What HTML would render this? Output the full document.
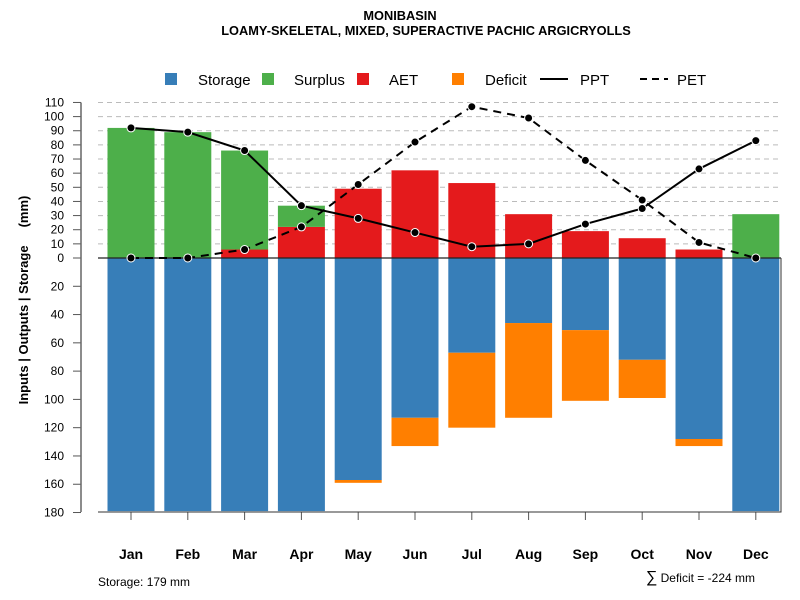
<!DOCTYPE html>
<html><head><meta charset="utf-8"><style>body{margin:0;background:#fff}svg{display:block;font-family:"Liberation Sans",sans-serif}</style></head>
<body>
<svg id="chart" width="800" height="600" viewBox="0 0 800 600">
<text x="400" y="20" text-anchor="middle" font-size="12.8" font-weight="bold">MONIBASIN</text>
<text x="426" y="35" text-anchor="middle" font-size="12.8" font-weight="bold">LOAMY-SKELETAL, MIXED, SUPERACTIVE PACHIC ARGICRYOLLS</text>
<g id="legend" font-size="15">
<rect x="165" y="73" width="12" height="12" fill="#377eb8"/><text x="198" y="85">Storage</text>
<rect x="262" y="73" width="12" height="12" fill="#4daf4a"/><text x="294" y="85">Surplus</text>
<rect x="357" y="73" width="12" height="12" fill="#e41a1c"/><text x="389" y="85">AET</text>
<rect x="452" y="73" width="12" height="12" fill="#ff7f00"/><text x="485" y="85">Deficit</text>
<line x1="540" y1="79" x2="568" y2="79" stroke="#000" stroke-width="2"/><text x="580" y="85">PPT</text>
<line x1="640" y1="79" x2="668" y2="79" stroke="#000" stroke-width="2" stroke-dasharray="7,5"/><text x="677" y="85">PET</text>
</g>
<text transform="translate(28,300) rotate(-90)" text-anchor="middle" font-size="13" font-weight="bold">Inputs | Outputs | Storage&#160;&#160;&#160;&#160;&#160;(mm)</text>
<text x="98" y="586" font-size="12">Storage: 179 mm</text>
<text x="755" y="582" text-anchor="end" font-size="12"><tspan font-size="16">∑</tspan> Deficit = -224 mm</text>
</svg>
<script>
const months=["Jan","Feb","Mar","Apr","May","Jun","Jul","Aug","Sep","Oct","Nov","Dec"];
const storage=[179,179,179,179,157,113,67,46,51,72,128,179];
const deficit=[0,0,0,0,2,20,53,67,50,27,5,0];
const aet=[0,0,6,22,49,62,53,31,19,14,6,0];
const surplus=[92,89,70,15,0,0,0,0,0,0,0,31];
const ppt=[92,89,76,37,28,18,8,10,24,35,63,83];
const pet=[0,0,6,22,52,82,107,99,69,41,11,0];
const upTicks=[0,10,20,30,40,50,60,70,80,90,100,110];
const downTicks=[20,40,60,80,100,120,140,160,180];
const NS="http://www.w3.org/2000/svg",svg=document.getElementById('chart');
const y0=258,k=1.414;
const Y=v=>y0-v*k;
const X=i=>131+i*56.8;
const bw=47;
function mk(t,a,p){const e=document.createElementNS(NS,t);for(const q in a)e.setAttribute(q,a[q]);(p||svg).appendChild(e);return e;}
const g=mk('g',{});


upTicks.forEach(v=>{
 if(v>0){const l=mk('line',{x1:98,x2:781,y1:Y(v),y2:Y(v),stroke:'#bbb','stroke-dasharray':'5,4'},g);
 
 }
 const t=mk('line',{x1:73,x2:81,y1:Y(v),y2:Y(v),stroke:'#555'},g);
 
 
 const tx=mk('text',{x:64,y:Y(v)+4,'text-anchor':'end','font-size':12},g);tx.textContent=v;
 
 
});
downTicks.forEach(v=>{
 const t=mk('line',{x1:73,x2:81,y1:Y(-v),y2:Y(-v),stroke:'#555'},g);
 
 
 const tx=mk('text',{x:64,y:Y(-v)+4,'text-anchor':'end','font-size':12},g);tx.textContent=v;
 
 
});
months.forEach((m,i)=>{
 const x=X(i)-bw/2;
 const s=mk('rect',{x:x,y:y0,width:bw,height:storage[i]*k,fill:'#377eb8'},g);
 
 
 if(deficit[i]>0){const d=mk('rect',{x:x,y:Y(-storage[i]),width:bw,height:deficit[i]*k,fill:'#ff7f00'},g);
 
 }
 if(aet[i]>0){const a=mk('rect',{x:x,y:Y(aet[i]),width:bw,height:aet[i]*k,fill:'#e41a1c'},g);
 
 }
 if(surplus[i]>0){const u=mk('rect',{x:x,y:Y(aet[i]+surplus[i]),width:bw,height:surplus[i]*k,fill:'#4daf4a'},g);
 
 }
 const t=mk('line',{x1:X(i),x2:X(i),y1:512,y2:520,stroke:'#555'},g);
 
 
 const tx=mk('text',{x:X(i),y:559,'text-anchor':'middle','font-size':14,'font-weight':'bold'},g);tx.textContent=m;
 
 
});
const zl=mk('line',{x1:98,x2:781,y1:y0,y2:y0,stroke:'#222','stroke-width':1.2},g);


const ax=mk('line',{x1:81,x2:81,y1:Y(110),y2:512,stroke:'#666','stroke-width':1.5},g);


const bx=mk('path',{d:'M98,512H781V'+Y(0),stroke:'#333',fill:'none'},g);


function series(vals,name,dash){
 const p=mk('polyline',{points:vals.map((v,i)=>X(i)+','+Y(v)).join(' '),fill:'none',stroke:'#000','stroke-width':2,'stroke-dasharray':dash||'none'},g);
 
 
 vals.forEach((v,i)=>{const c=mk('circle',{cx:X(i),cy:Y(v),r:4,fill:'#000',stroke:'#fff','stroke-width':1},g);
 
 });
}
series(ppt,'ppt');
series(pet,'pet','8,6');
</script>
</body></html>
